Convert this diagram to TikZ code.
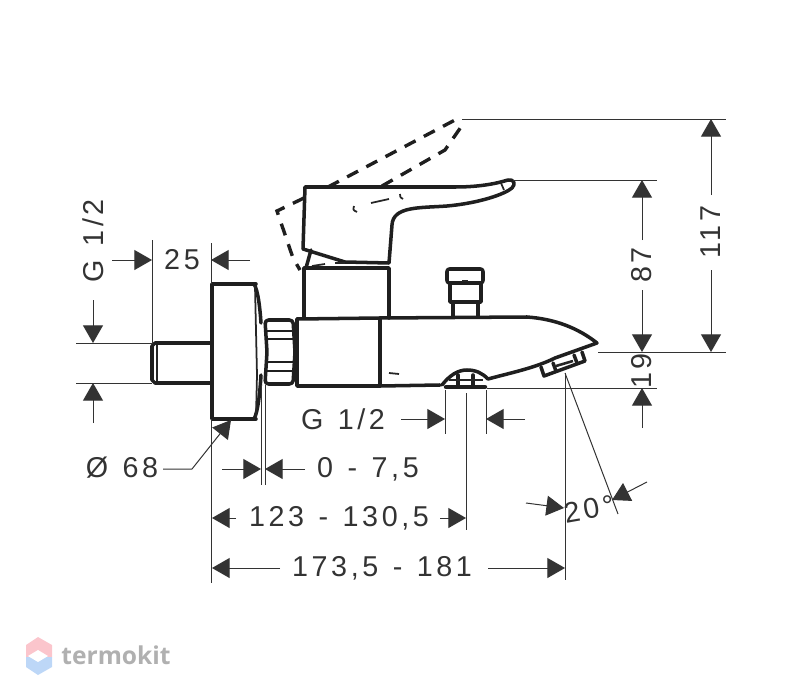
\documentclass[tikz,border=0pt]{standalone}
\usepackage{fontspec}
\setmainfont{Liberation Sans}
\newfontfamily\dimfont[LetterSpace=12.5,WordSpace=1.25]{Liberation Sans}
\newfontfamily\logofont{Open Sans}
\usetikzlibrary{arrows.meta}
\definecolor{logogray}{HTML}{B0B0B0}
\definecolor{logored}{HTML}{FBC5CC}
\definecolor{logoblue}{HTML}{BDD7F7}
\begin{document}
\begin{tikzpicture}[x=0.03cm,y=-0.03cm,font=\dimfont\fontsize{24.5}{27}\selectfont]
%% all coordinates are in pixels of the drawing, y runs down
\tikzstyle{body}=[line width=3pt,line join=round,line cap=round,draw=black!88]
\tikzstyle{bodythin}=[line width=1.5pt,draw=black!85]
\tikzstyle{swung}=[line width=2.9pt,dash pattern=on 10.5pt off 8pt,draw=black!88]
\tikzstyle{dimline}=[line width=0.85pt,draw=black!80]
\tikzstyle{dimarc}=[dimline,-{Triangle[length=15pt,width=17pt]}]
\tikzstyle{dimtext}=[text=black!80,inner sep=0pt]
\useasboundingbox (0,0) rectangle (800,700);
%% lever
\draw[body] (305,187) -- (455,187) .. controls (478,187) and (495,184) .. (508,180)
  .. controls (514,179) and (516,184) .. (512,188) .. controls (505,194) and (480,203) .. (447,206)
  .. controls (420,208) and (393,206) .. (392,225) -- (389,263) -- (345,262) -- (303,249) -- cycle;
\draw[bodythin] (501,183) -- (504,190);
\draw[bodythin] (371,203) -- (389,199) (400,194) .. controls (400,197) .. (403,199)
  (354,206) .. controls (353,210) .. (357,212);
\draw[body] (311,250) -- (306,268);
\draw[bodythin] (312,266) -- (325,264) (335,263) -- (345,263);
%% lever, swung position
\draw[swung] (328,187) -- (455,120);
\draw[swung] (382,186) -- (445,150) -- (461,127);
\draw[swung] (304,198) -- (277,211) -- (293,258) -- (300,270);
%% base and body
\draw[body] (304,318) -- (304,268) -- (389,268) -- (389,318);
\draw[body] (297,319) -- (380,318) -- (527,317) .. controls (555,319) and (578,328) .. (597,343)
  -- (555,358) .. controls (535,368) and (510,373) .. (488,379);
\draw[body] (297,319) -- (297,386) -- (380,386) -- (440,385);
\draw[body] (380,318) -- (380,386);
\draw[bodythin] (389,373) -- (399,374);
%% knob on top of the body
\draw[body,rounded corners=2pt] (447,269) rectangle (483,283);
\draw[body] (450,283) -- (450,302) -- (481,302) -- (481,283);
\draw[body] (453,302) -- (453,317) (478,302) -- (478,317);
\draw[bodythin] (462,281) -- (468,281);
%% outlet at the bottom
\draw[body] (442,385) .. controls (450,375) and (458,370) .. (467,370)
  .. controls (476,370) and (482,373) .. (488,379);
\draw[line width=3.8pt,line cap=round,draw=black!88] (446,387) -- (485,387);
\draw[body] (458,375) -- (458,385) (473,375) -- (473,385);
\draw[bodythin] (449,380) -- (483,380);
%% aerator
\draw[body] (541,367) -- (544,376) -- (585,361) -- (582,352);
\draw[body] (553,363) -- (556,371) (574,355) -- (577,363);
\draw[line width=2.2pt,draw=black!85] (556,366) -- (573,361);
%% wall flange and nipple
\draw[body] (256,284) -- (212,284) -- (212,419) -- (256,419);
\draw[body] (254,284) .. controls (258,290) and (260,308) .. (261,323);
\draw[body] (254,419) .. controls (258,412) and (260,392) .. (261,375);
\draw[bodythin] (255,286) -- (257,375) -- (256,417);
\draw[body] (211,343) -- (155,343) -- (152,346) -- (152,380) -- (155,383) -- (211,383);
\draw[bodythin] (157,345) -- (157,381);
%% union nut
\draw[body,rounded corners=3pt] (265,320) -- (293,320) -- (295,352) -- (293,384) -- (265,384)
  -- (267,352) -- cycle;
\draw[line width=2.2pt,draw=black!88] (267,331) -- (293,331) (267,339) -- (293,339) (267,362) -- (293,362) (267,371) -- (293,371);
%% extension lines
\draw[dimline] (462,119) -- (726,119);
\draw[dimline] (513,180) -- (657,180);
\draw[dimline] (598,352) -- (726,352);
\draw[dimline] (487,388) -- (657,388);
\draw[dimline] (76,343) -- (152,343);
\draw[dimline] (76,383) -- (152,383);
\draw[dimline] (152,240) -- (152,343);
\draw[dimline] (211,243) -- (211,284);
\draw[dimline] (211,419) -- (211,583);
\draw[dimline] (261,385) -- (261,485);
\draw[dimline] (265,385) -- (265,485);
\draw[dimline] (445,390) -- (445,434);
\draw[dimline] (486,390) -- (486,434);
\draw[dimline] (466,393) -- (466,530);
\draw[dimline] (565,373) -- (565,580);
\draw[dimline] (565,373) -- (618,514);
%% dimension 117
\node[dimtext,rotate=90] at (711,232) (dimA) {117};
\draw[dimarc] (711,195) -- (711,119);
\draw[dimarc] (711,270) -- (711,352);
%% dimension 87
\node[dimtext,rotate=90] at (642,265) (dimB) {87};
\draw[dimarc] (642,240) -- (642,180);
\draw[dimarc] (642,290) -- (642,352);
%% dimension 19
\node[dimtext,rotate=90] at (642,371) (dimC) {19};
\draw[dimarc] (642,428) -- (642,388);
%% dimension G 1/2 on the nipple
\node[dimtext,rotate=90] at (93,241) (dimD) {G 1/2};
\draw[dimarc] (93,300) -- (93,343);
\draw[dimarc] (93,423) -- (93,383);
%% dimension 25
\node[dimtext] at (182,260) (dimE) {25};
\draw[dimarc] (112,260) -- (152,260);
\draw[dimarc] (250,260) -- (211,260);
%% dimension diameter 68
\node[dimtext] at (122,468) (dimF) {Ø 68};
\draw[dimarc] (163,469) -- (192,469) -- (231,420);
%% dimension 0 - 7,5
\node[dimtext] at (368,469) (dimG) {0 - 7,5};
\draw[dimarc] (222,469) -- (261,469);
\draw[dimarc] (305,469) -- (265,469);
%% dimension 123 - 130,5
\node[dimtext] at (339,518) (dimH) {123 - 130,5};
\draw[dimarc] (236,518) -- (212,518);
\draw[dimarc] (440,518) -- (466,518);
%% dimension 173,5 - 181
\node[dimtext] at (382,568) (dimI) {173,5 - 181};
\draw[dimarc] (280,568) -- (212,568);
\draw[dimarc] (488,568) -- (565,568);
%% dimension G 1/2 on the outlet
\node[dimtext] at (343,419) (dimJ) {G 1/2};
\draw[dimarc] (401,419) -- (445,419);
\draw[dimarc] (525,419) -- (486,419);
%% angle 20
\node[dimtext,rotate=10] at (589,509) (dimK) {20°};
\draw[dimarc] (526,503) -- (564,508);
\draw[dimarc] (647,482) -- (612,500);
%% logo
\fill[logored] (26,645) -- (38,637) -- (52,645) -- (52,657) -- (26,657) -- cycle;
\fill[logoblue] (26,657) -- (52,657) -- (52,667) -- (38,675) -- (26,667) -- cycle;
\fill[white] (38,650) -- (48,656) -- (38,662) -- (28,656) -- cycle;
\node[text=logogray,inner sep=0pt,font=\logofont\bfseries\fontsize{21}{24}\selectfont] at (116,655) (logoName) {termokit};
\end{tikzpicture}
\end{document}
